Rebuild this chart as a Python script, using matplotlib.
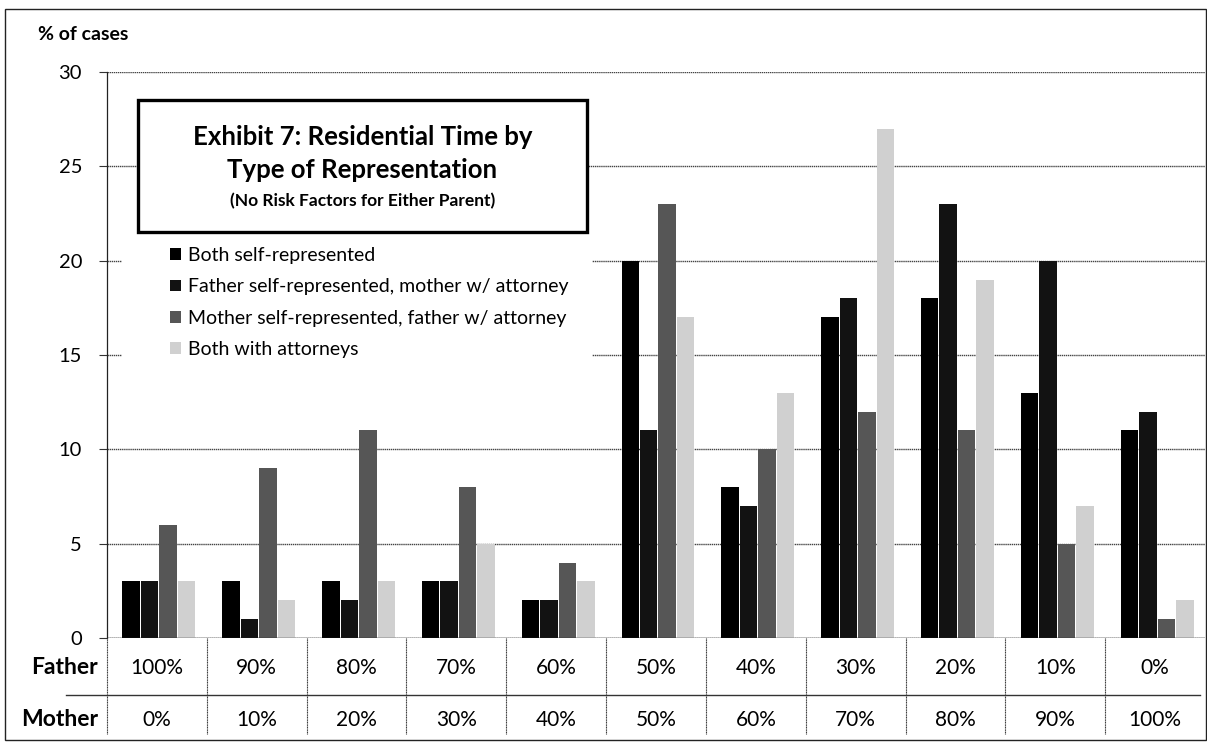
import matplotlib
matplotlib.use("Agg")
import matplotlib.pyplot as plt
from matplotlib.patches import Rectangle
from matplotlib.lines import Line2D
import numpy as np

father = ["100%", "90%", "80%", "70%", "60%", "50%", "40%", "30%", "20%", "10%", "0%"]
mother = ["0%", "10%", "20%", "30%", "40%", "50%", "60%", "70%", "80%", "90%", "100%"]
series_names = ["Both self-represented",
                "Father self-represented, mother w/ attorney",
                "Mother self-represented, father w/ attorney",
                "Both with attorneys"]
both_self = [3, 3, 3, 3, 2, 20, 8, 17, 18, 13, 11]
father_self = [3, 1, 2, 3, 2, 11, 7, 18, 23, 20, 12]
mother_self = [6, 9, 11, 8, 4, 23, 10, 12, 11, 5, 1]
both_att = [3, 2, 3, 5, 3, 17, 13, 27, 19, 7, 2]
yticks = [0, 5, 10, 15, 20, 25, 30]

colors = ["#000000", "#121212", "#565656", "#d0d0d0"]
FONT = "Lato"
plt.rcParams['font.family'] = [FONT, 'DejaVu Sans']

W, H = 1207, 746
fig = plt.figure(figsize=(W / 100, H / 100), dpi=100)
fig.patch.set_facecolor("white")

x0, x1 = 107, 1205
y_top, y_bot = 72, 638
ax = fig.add_axes([x0 / W, 1 - y_bot / H, (x1 - x0) / W, (y_bot - y_top) / H])
ax.set_axisbelow(True)

n = len(father)
x = np.arange(n)
data = [both_self, father_self, mother_self, both_att]
width = 0.175
step = 0.185
for i, (vals, c, name) in enumerate(zip(data, colors, series_names)):
    ax.bar(x + (i - 1.5) * step + 0.02, vals, width, color=c, label=name, zorder=3)

ax.set_xlim(-0.5, n - 0.5)
ax.set_ylim(0, 30)
ax.set_yticks(yticks)
ax.set_yticklabels([str(t) for t in yticks], fontsize=14.5)
ax.set_xticks([])
ax.tick_params(axis='y', length=6, width=0.8, color="#333333", pad=12)
ax.grid(axis='y', color="#444444", linestyle=(0, (1, 0.5)), linewidth=1.0)
for s in ["top", "right", "bottom"]:
    ax.spines[s].set_visible(False)
ax.spines["left"].set_color("#222222")
ax.spines["left"].set_linewidth(0.9)
ax.axhline(0, color="#222222", linewidth=1.0, zorder=4)

# white legend area that hides gridlines
lx0, lx1, ly0, ly1 = 122, 592, 236, 366
ax.add_patch(Rectangle((lx0 / W, 1 - ly1 / H), (lx1 - lx0) / W, (ly1 - ly0) / H,
                       transform=fig.transFigure, facecolor="white", edgecolor="none",
                       zorder=2, clip_on=False))

# legend
leg = ax.legend(loc="upper left", bbox_to_anchor=((170 - x0) / (x1 - x0), 1 - (247 - y_top) / (y_bot - y_top)),
                frameon=False, fontsize=14, handlelength=0.55, handleheight=0.55,
                handletextpad=0.35, labelspacing=0.74, borderaxespad=0, borderpad=0)

# title box
bx0, bx1, by0, by1 = 138, 587, 100, 232
fig.patches.append(Rectangle((bx0 / W, 1 - by1 / H), (bx1 - bx0) / W, (by1 - by0) / H,
                             transform=fig.transFigure, fill=True, facecolor="white",
                             edgecolor="black", linewidth=2.4, zorder=5))
cx = (bx0 + bx1) / 2 / W
fig.text(cx, 1 - 137 / H, "Exhibit 7: Residential Time by", ha="center", va="center",
         fontsize=18.5, fontweight="bold", zorder=6)
fig.text(cx, 1 - 170 / H, "Type of Representation", ha="center", va="center",
         fontsize=18.5, fontweight="bold", zorder=6)
fig.text(cx, 1 - 201 / H, "(No Risk Factors for Either Parent)", ha="center", va="center",
         fontsize=12.5, fontweight="bold", zorder=6)

# y label
fig.text(38 / W, 1 - 35 / H, "% of cases", ha="left", va="center", fontsize=14, fontweight="bold")

# table below
row_sep = 695
row_end = 734
for k in range(n):
    xc = (x0 + (k + 0.5) * (x1 - x0) / n) / W
    fig.text(xc, 1 - 668 / H, father[k], ha="center", va="center", fontsize=15)
    fig.text(xc, 1 - 720 / H, mother[k], ha="center", va="center", fontsize=15)
for k in range(n):
    xb = (x0 + k * (x1 - x0) / n) / W
    fig.add_artist(Line2D([xb, xb], [1 - y_bot / H, 1 - row_end / H], transform=fig.transFigure,
                          color="#333333", linewidth=0.8, linestyle=(0, (1, 0.5))))
fig.add_artist(Line2D([66 / W, 1200 / W], [1 - row_sep / H, 1 - row_sep / H], transform=fig.transFigure,
                      color="#333333", linewidth=1.0))
fig.text(98 / W, 1 - 668 / H, "Father", ha="right", va="center", fontsize=16.5, fontweight="bold")
fig.text(98 / W, 1 - 720 / H, "Mother", ha="right", va="center", fontsize=16.5, fontweight="bold")

# outer border
fig.patches.append(Rectangle((5 / W, 1 - 740 / H), (W - 6) / W, (740 - 9) / H,
                             transform=fig.transFigure, fill=False, edgecolor="#222222",
                             linewidth=1.0))

fig.savefig("out.png", dpi=100)
